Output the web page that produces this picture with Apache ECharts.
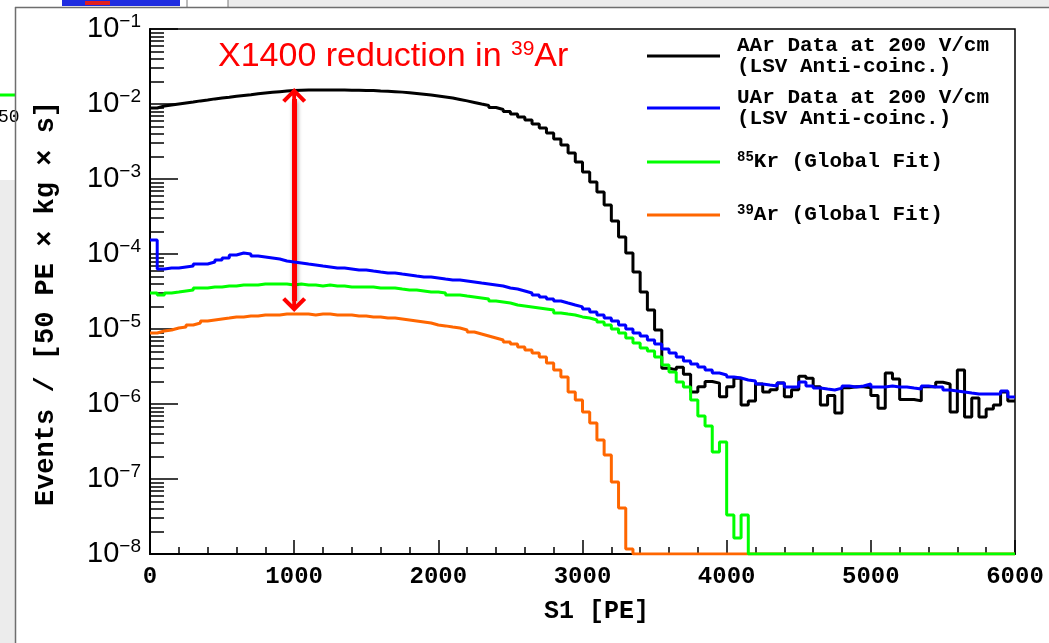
<!DOCTYPE html>
<html>
<head>
<meta charset="UTF-8">
<title>S1 spectrum</title>
<script src="https://cdn.jsdelivr.net/npm/echarts@6/dist/echarts.min.js"></script>
<style>
html, body { margin: 0; padding: 0; background: #fff; }
#chart { width: 1049px; height: 643px; }
</style>
</head>
<body>
<div id="chart"></div>
<script>
// histogram binning, 50 PE per bin
var BIN_WIDTH = 50;
var X_MIN = 0, X_MAX = 6000;
var Y_MIN = 1e-8, Y_MAX = 1e-1;
var decades = [1e-8, 1e-7, 1e-6, 1e-5, 1e-4, 1e-3, 1e-2, 1e-1];
var minorMult = [2, 3, 4, 5, 6, 7, 8, 9];

// AAr data (black)
var aarData = [
  8.85e-3, 9.4e-3, 9.7e-3, 1.0e-2, 1.03e-2, 1.06e-2, 1.10e-2, 1.13e-2, 1.17e-2, 1.20e-2,
  1.23e-2, 1.27e-2, 1.30e-2, 1.33e-2, 1.37e-2, 1.40e-2, 1.43e-2, 1.46e-2, 1.49e-2, 1.51e-2,
  1.53e-2, 1.54e-2, 1.54e-2, 1.54e-2, 1.54e-2, 1.54e-2, 1.54e-2, 1.53e-2, 1.53e-2, 1.51e-2,
  1.51e-2, 1.49e-2, 1.48e-2, 1.46e-2, 1.44e-2, 1.41e-2, 1.38e-2, 1.35e-2, 1.32e-2, 1.28e-2,
  1.24e-2, 1.20e-2, 1.15e-2, 1.10e-2, 1.05e-2, 1.0e-2, 9.55e-3, 8.98e-3, 8.45e-3, 7.94e-3,
  7.36e-3, 6.71e-3, 6.12e-3, 5.41e-3, 4.79e-3, 4.10e-3, 3.41e-3, 2.84e-3, 2.22e-3, 1.69e-3,
  1.24e-3, 9.12e-4, 6.71e-4, 4.50e-4, 2.75e-4, 1.69e-4, 1.03e-4, 5.75e-5, 3.11e-5, 1.79e-5,
  9.70e-6, 3.0e-6, 2.85e-6, 3.1e-6, 2.5e-6, 1.45e-6, 1.7e-6, 2.0e-6, 1.9e-6, 1.25e-6,
  1.7e-6, 2.2e-6, 9.7e-7, 1.1e-6, 1.85e-6, 1.45e-6, 1.55e-6, 1.9e-6, 1.25e-6, 1.55e-6,
  2.35e-6, 2.2e-6, 1.7e-6, 9.7e-7, 1.3e-6, 7.6e-7, 1.65e-6, 1.7e-6, 1.7e-6, 1.65e-6,
  1.3e-6, 8.8e-7, 2.6e-6, 2.15e-6, 1.15e-6, 1.15e-6, 1.1e-6, 1.7e-6, 1.7e-6, 1.95e-6,
  1.85e-6, 7.8e-7, 2.85e-6, 6.7e-7, 1.2e-6, 6.7e-7, 8.6e-7, 9.7e-7, 1.45e-6, 1.1e-6
];

// UAr data (blue)
var uarData = [
  1.54e-4, 6.31e-5, 6.50e-5, 6.50e-5, 6.71e-5, 6.92e-5, 7.36e-5, 7.36e-5, 7.82e-5, 8.32e-5,
  8.85e-5, 9.70e-5, 1.03e-4, 1.0e-4, 9.40e-5, 9.12e-5, 8.85e-5, 8.58e-5, 8.07e-5, 7.82e-5,
  7.59e-5, 7.36e-5, 7.14e-5, 6.92e-5, 6.71e-5, 6.50e-5, 6.50e-5, 6.31e-5, 6.12e-5, 6.12e-5,
  5.93e-5, 5.75e-5, 5.58e-5, 5.58e-5, 5.41e-5, 5.25e-5, 5.09e-5, 4.94e-5, 4.94e-5, 4.79e-5,
  4.64e-5, 4.50e-5, 4.50e-5, 4.37e-5, 4.24e-5, 4.10e-5, 3.98e-5, 3.86e-5, 3.74e-5, 3.52e-5,
  3.41e-5, 3.21e-5, 3.02e-5, 2.84e-5, 2.67e-5, 2.51e-5, 2.36e-5, 2.22e-5, 2.09e-5, 1.97e-5,
  1.85e-5, 1.69e-5, 1.54e-5, 1.40e-5, 1.28e-5, 1.13e-5, 1.0e-5, 8.85e-6, 8.07e-6, 7.14e-6,
  6.31e-6, 5.41e-6, 4.79e-6, 4.24e-6, 3.74e-6, 3.41e-6, 3.11e-6, 2.84e-6, 2.59e-6, 2.44e-6,
  2.29e-6, 2.22e-6, 2.09e-6, 2.03e-6, 1.85e-6, 1.79e-6, 1.74e-6, 1.91e-6, 1.69e-6, 1.69e-6,
  1.97e-6, 1.74e-6, 1.63e-6, 1.58e-6, 1.54e-6, 1.63e-6, 1.74e-6, 1.69e-6, 1.74e-6, 1.85e-6,
  1.69e-6, 1.69e-6, 1.74e-6, 1.69e-6, 1.69e-6, 1.63e-6, 1.58e-6, 1.74e-6, 1.69e-6, 1.69e-6,
  1.54e-6, 1.49e-6, 1.45e-6, 1.40e-6, 1.36e-6, 1.36e-6, 1.36e-6, 1.36e-6, 1.49e-6, 1.24e-6
];

// 85Kr global fit (green)
var krData = [
  3.02e-5, 2.84e-5, 3.02e-5, 3.11e-5, 3.21e-5, 3.31e-5, 3.52e-5, 3.52e-5, 3.63e-5, 3.63e-5,
  3.74e-5, 3.74e-5, 3.86e-5, 3.86e-5, 3.86e-5, 3.98e-5, 3.98e-5, 3.98e-5, 3.98e-5, 3.86e-5,
  3.98e-5, 3.86e-5, 3.86e-5, 3.74e-5, 3.86e-5, 3.74e-5, 3.74e-5, 3.63e-5, 3.63e-5, 3.63e-5,
  3.63e-5, 3.52e-5, 3.52e-5, 3.52e-5, 3.41e-5, 3.31e-5, 3.31e-5, 3.21e-5, 3.11e-5, 3.11e-5,
  3.02e-5, 2.84e-5, 2.84e-5, 2.75e-5, 2.67e-5, 2.59e-5, 2.51e-5, 2.36e-5, 2.29e-5, 2.22e-5,
  2.09e-5, 2.03e-5, 1.97e-5, 1.91e-5, 1.85e-5, 1.79e-5, 1.63e-5, 1.58e-5, 1.54e-5, 1.45e-5,
  1.40e-5, 1.32e-5, 1.24e-5, 1.13e-5, 1.0e-5, 8.85e-6, 7.59e-6, 6.50e-6, 5.58e-6, 5.09e-6,
  4.24e-6, 3.31e-6, 2.67e-6, 1.97e-6, 1.69e-6, 1.13e-6, 6.92e-7, 5.09e-7, 2.29e-7, 3.11e-7,
  3.31e-8, 1.63e-8, 3.31e-8, 0, 0, 0, 0, 0, 0, 0,
  0, 0, 0, 0, 0, 0, 0, 0, 0, 0,
  0, 0, 0, 0, 0, 0, 0, 0, 0, 0,
  0, 0, 0, 0, 0, 0, 0, 0, 0, 0
];

// 39Ar global fit (orange)
var arData = [
  8.85e-6, 9.40e-6, 9.70e-6, 1.03e-5, 1.06e-5, 1.13e-5, 1.20e-5, 1.28e-5, 1.32e-5, 1.36e-5,
  1.40e-5, 1.45e-5, 1.45e-5, 1.49e-5, 1.49e-5, 1.54e-5, 1.54e-5, 1.54e-5, 1.58e-5, 1.58e-5,
  1.58e-5, 1.58e-5, 1.54e-5, 1.58e-5, 1.58e-5, 1.54e-5, 1.54e-5, 1.54e-5, 1.49e-5, 1.49e-5,
  1.45e-5, 1.45e-5, 1.40e-5, 1.40e-5, 1.36e-5, 1.32e-5, 1.28e-5, 1.24e-5, 1.20e-5, 1.13e-5,
  1.10e-5, 1.06e-5, 1.03e-5, 9.70e-6, 9.12e-6, 8.58e-6, 8.07e-6, 7.59e-6, 7.14e-6, 6.71e-6,
  6.31e-6, 5.75e-6, 5.25e-6, 4.79e-6, 4.24e-6, 3.52e-6, 2.84e-6, 2.29e-6, 1.45e-6, 1.13e-6,
  7.82e-7, 5.58e-7, 3.31e-7, 2.09e-7, 9.12e-8, 4.10e-8, 1.17e-8, 0, 0, 0,
  0, 0, 0, 0, 0, 0, 0, 0, 0, 0,
  0, 0, 0, 0, 0, 0, 0, 0, 0, 0,
  0, 0, 0, 0, 0, 0, 0, 0, 0, 0,
  0, 0, 0, 0, 0, 0, 0, 0, 0, 0,
  0, 0, 0, 0, 0, 0, 0, 0, 0, 0
];

// double arrow at 1000 PE (line ends sit at the arrow-head centres)
var arrowX = 1000;
var arrowTop = 1.17e-2;
var arrowBottom = 2.36e-5;

var names = {
  aar: 'AAr Data at 200 V/cm\n(LSV Anti-coinc.)',
  uar: 'UAr Data at 200 V/cm\n(LSV Anti-coinc.)',
  kr: '{sup|85}Kr (Global Fit)',
  ar: '{sup|39}Ar (Global Fit)'
};

function histPoints(vals) {
  var pts = [];
  for (var i = 0; i < vals.length; i++) {
    var v = Math.max(vals[i], Y_MIN); // empty bins sit on the axis floor
    pts.push([i * BIN_WIDTH, v]);
    pts.push([(i + 1) * BIN_WIDTH, v]);
  }
  return pts;
}

var minorTicks = [];
for (var d = 0; d < decades.length - 1; d++) {
  for (var m = 0; m < minorMult.length; m++) {
    minorTicks.push(minorMult[m] * decades[d]);
  }
}

var MONO = 'Liberation Mono';
var SANS = 'Liberation Sans';
var chevron = 'path://M10,0 L20,11 L17.5,13.5 L11.6,7 L11.6,20 L8.4,20 L8.4,7 L2.5,13.5 L0,11 Z';

var legendText = {
  fontFamily: MONO, fontWeight: 'bold', fontSize: 21, color: '#000', lineHeight: 21,
  padding: [0, 0, 0, 12],
  rich: { sup: { fontFamily: MONO, fontWeight: 'bold', fontSize: 14, color: '#000', padding: [0, 0, 10, 0] } }
};
function legendAt(name, top) {
  return {
    data: [name], left: 647, top: top, orient: 'vertical', padding: 0,
    itemWidth: 73, itemHeight: 3, icon: 'rect', selectedMode: false,
    textStyle: legendText
  };
}

function histSeries(name, vals, color, z) {
  return {
    name: name, type: 'line', data: histPoints(vals), z: z,
    symbol: 'none', showSymbol: false, animation: false,
    lineStyle: { color: color, width: 3 }, itemStyle: { color: color }
  };
}

var chart = echarts.init(document.getElementById('chart'));

var blueSeries = histSeries(names.uar, uarData, '#0000ff', 5);
blueSeries.markLine = {
  silent: true, animation: false,
  symbol: [chevron, chevron], symbolSize: [24, 22],
  label: { show: false },
  lineStyle: { color: '#ff0000', width: 5, type: 'solid',
    shadowBlur: 4, shadowColor: 'rgba(0,0,0,0.35)', shadowOffsetX: 1, shadowOffsetY: 2 },
  data: [[{ coord: [arrowX, arrowTop] }, { coord: [arrowX, arrowBottom] }]]
};

var option = {
  backgroundColor: '#fff',
  animation: false,
  grid: { left: 150, right: 34, top: 29, bottom: 89, show: true, borderColor: '#000', borderWidth: 1.5, backgroundColor: '#fff' },
  legend: [
    legendAt(names.aar, 35),
    legendAt(names.uar, 87),
    legendAt(names.kr, 150),
    legendAt(names.ar, 203)
  ],
  xAxis: {
    type: 'value', min: X_MIN, max: X_MAX, interval: 1000,
    axisLine: { show: true, lineStyle: { color: '#000', width: 2 } },
    axisTick: { show: true, inside: true, length: 14, lineStyle: { color: '#000', width: 1.5 } },
    minorTick: { show: true, splitNumber: 5, length: 7, lineStyle: { color: '#000', width: 1.5 } },
    splitLine: { show: false },
    axisLabel: {
      fontFamily: MONO, fontWeight: 'bold', fontSize: 24, color: '#000', margin: 11,
      formatter: function (v) { return String(v); }
    },
    name: 'S1 [PE]', nameLocation: 'middle', nameGap: 45,
    nameTextStyle: { fontFamily: MONO, fontWeight: 'bold', fontSize: 25, color: '#000', padding: [0, 0, 0, 28] }
  },
  yAxis: [{
    type: 'log', logBase: 10, min: Y_MIN, max: Y_MAX, position: 'left',
    axisLine: { show: true, lineStyle: { color: '#000', width: 2 } },
    axisTick: { show: true, inside: true, length: 28, lineStyle: { color: '#000', width: 1.5 }, customValues: decades },
    splitLine: { show: false },
    axisLabel: {
      customValues: decades, margin: 9, fontFamily: SANS, fontSize: 29, color: '#000',
      formatter: function (v) {
        var e = Math.round(Math.log(v) / Math.LN10);
        return '10{e|' + (e < 0 ? '\u2212' : '') + Math.abs(e) + '}';
      },
      rich: { e: { fontFamily: SANS, fontSize: 19, color: '#000', padding: [0, 0, 15, 0] } }
    },
    name: 'Events / [50 PE \u00d7 kg \u00d7 s]', nameLocation: 'middle', nameGap: 90, nameRotate: 90,
    nameTextStyle: { fontFamily: MONO, fontWeight: 'bold', fontSize: 27, color: '#000', padding: [0, 24, 0, 0] }
  }, {
    type: 'log', logBase: 10, min: Y_MIN, max: Y_MAX, position: 'left',
    axisLine: { show: false },
    axisTick: { show: true, inside: true, length: 14, lineStyle: { color: '#000', width: 1.5 }, customValues: minorTicks },
    axisLabel: { show: false },
    splitLine: { show: false }
  }],
  graphic: [
    { type: 'rect', z: -10, shape: { x: 0, y: 180, width: 15, height: 463 }, style: { fill: '#ececec' } },
    { type: 'rect', z: -10, shape: { x: 228, y: 0, width: 821, height: 7 }, style: { fill: '#ececec' } },
    { type: 'rect', z: -10, shape: { x: 62, y: 0, width: 118, height: 6 }, style: { fill: '#1f2de0' } },
    { type: 'rect', z: -9, shape: { x: 85, y: 1, width: 25, height: 4 }, style: { fill: '#e02020' } },
    { type: 'line', z: -8, shape: { x1: 187, y1: 0, x2: 187, y2: 7 }, style: { stroke: '#777', lineWidth: 1 } },
    { type: 'line', z: -8, shape: { x1: 228, y1: 0, x2: 228, y2: 7 }, style: { stroke: '#777', lineWidth: 1 } },
    { type: 'line', z: -8, shape: { x1: 0, y1: 95, x2: 15, y2: 95 }, style: { stroke: '#00ff00', lineWidth: 3 } },
    { type: 'text', z: -8, style: { x: -2, y: 108, text: '50', fontFamily: MONO, fontSize: 18, fill: '#000' } },
    { type: 'line', z: -5, shape: { x1: 15, y1: 7.5, x2: 1049, y2: 7.5 }, style: { stroke: '#6e6e6e', lineWidth: 1.5 } },
    { type: 'line', z: -5, shape: { x1: 15.5, y1: 7, x2: 15.5, y2: 643 }, style: { stroke: '#6e6e6e', lineWidth: 1.5 } },
    { type: 'text', z: 100, style: {
        x: 218, y: 57, verticalAlign: 'middle',
        text: 'X1400 reduction in {s|39}Ar',
        fontFamily: SANS, fontSize: 34, fill: '#ff0000',
        rich: { s: { fontFamily: SANS, fontSize: 21, fill: '#ff0000', padding: [0, 0, 15, 0] } }
      } }
  ],
  series: [
    histSeries(names.aar, aarData, '#000000', 2),
    histSeries(names.ar, arData, '#ff6600', 3),
    histSeries(names.kr, krData, '#00ff00', 4),
    blueSeries
  ]
};
chart.setOption(option);
</script>
</body>
</html>
